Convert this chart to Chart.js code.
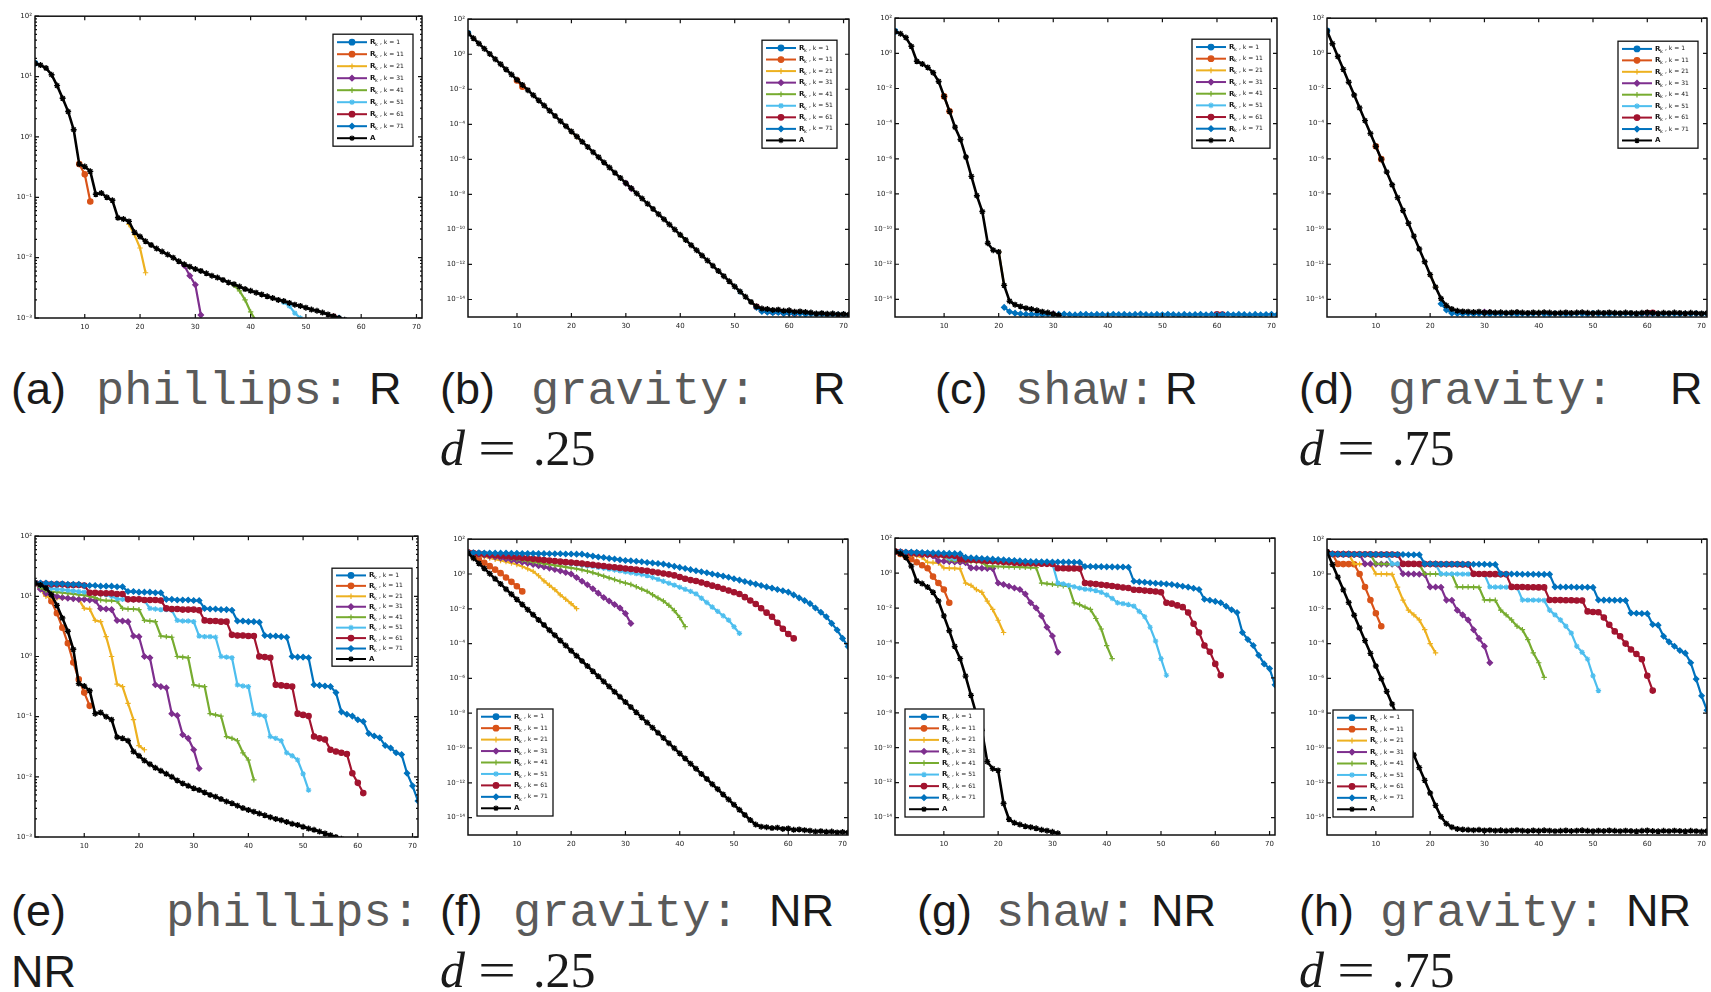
<!DOCTYPE html>
<html>
<head>
<meta charset="utf-8">
<title>phillips / gravity / shaw</title>
<script src="https://cdn.jsdelivr.net/npm/chart.js@4/dist/chart.umd.min.js"></script>
<style>
  html, body { margin: 0; padding: 0; background: #fff; }
  body { width: 1711px; height: 992px; position: relative; overflow: hidden; }
  .panel { position: absolute; }
  .cap { position: absolute; white-space: pre; line-height: 1; }
  .sans { font-family: "Liberation Sans", Arial, sans-serif; font-size: 45px; color: #1a1a1a; }
  .mono { font-family: "Liberation Mono", "Courier New", monospace; font-size: 47px; color: #5a5a5a; }
  .math { font-family: "Liberation Serif", "DejaVu Serif", serif; font-size: 50px; color: #1a1a1a; }
  .it { font-style: italic; }
  .eq { display: inline-block; transform: scaleX(1.35); transform-origin: left center; }
</style>
</head>
<body>
<script>
// ---- axis ticks ----
const iterTicks = [10, 20, 30, 40, 50, 60, 70];
const decadeTicks = [-3, -2, -1, 0, 1, 2];
const evenTicks = [-14, -12, -10, -8, -6, -4, -2, 0, 2];
const legendK = [1, 11, 21, 31, 41, 51, 61, 71];

// all values below are log10 of the plotted quantity, indexed by iteration

// ---- reference curves (A) ----
const phillipsA = [1.22, 1.19, 1.14, 1.03, 0.85, 0.64, 0.42, 0.12, -0.45, -0.49,
  -0.57, -0.95, -0.93, -1.0, -1.05, -1.34, -1.36, -1.4, -1.58, -1.65,
  -1.73, -1.79, -1.85, -1.9, -1.95, -2.0, -2.06, -2.11, -2.15, -2.19,
  -2.22, -2.26, -2.3, -2.33, -2.37, -2.41, -2.44, -2.48, -2.52, -2.55,
  -2.58, -2.61, -2.64, -2.67, -2.7, -2.72, -2.75, -2.78, -2.8, -2.83,
  -2.86, -2.88, -2.91, -2.94, -2.97, -3.0, -3.03];
const gravity25A = [1.2, 0.91, 0.61, 0.32, 0.02, -0.28, -0.57, -0.87, -1.16, -1.46,
  -1.75, -2.05, -2.34, -2.64, -2.93, -3.23, -3.52, -3.82, -4.11, -4.41,
  -4.7, -5.0, -5.29, -5.59, -5.88, -6.18, -6.47, -6.77, -7.06, -7.36,
  -7.65, -7.95, -8.24, -8.54, -8.83, -9.13, -9.42, -9.72, -10.01, -10.31,
  -10.6, -10.9, -11.19, -11.49, -11.78, -12.08, -12.37, -12.67, -12.96, -13.26,
  -13.55, -13.85, -14.14, -14.4, -14.52, -14.55, -14.6, -14.58, -14.65, -14.62,
  -14.7, -14.68, -14.72, -14.75, -14.8, -14.78, -14.82, -14.8, -14.85, -14.83, -14.86];
const shawA = [1.25, 1.12, 0.9, 0.4, -0.45, -0.6, -0.8, -1.1, -1.6, -2.45,
  -3.3, -4.2, -4.9, -5.9, -7.0, -8.1, -9.0, -10.8, -11.2, -11.3,
  -13.2, -14.1, -14.3, -14.4, -14.5, -14.55, -14.62, -14.7, -14.75, -14.82, -14.9];
const gravity75A = [1.28, 0.55, -0.18, -0.91, -1.64, -2.37, -3.1, -3.83, -4.56, -5.29,
  -6.02, -6.75, -7.48, -8.21, -8.94, -9.67, -10.4, -11.13, -11.86, -12.59,
  -13.3, -13.95, -14.35, -14.55, -14.65,
  -14.68, -14.7, -14.72, -14.7, -14.74, -14.72, -14.75, -14.73, -14.76, -14.74,
  -14.72, -14.75, -14.77, -14.74, -14.76, -14.73, -14.75, -14.78, -14.76, -14.74,
  -14.77, -14.75, -14.73, -14.76, -14.78, -14.75, -14.77, -14.74, -14.76, -14.78,
  -14.75, -14.77, -14.79, -14.76, -14.74, -14.77, -14.79, -14.76, -14.78, -14.75,
  -14.77, -14.79, -14.76, -14.78, -14.8, -14.78];

// ---- R runs: only the part that leaves A is kept, starting at *_start ----
const phillipsR_start = [1, 9, 18, 28, 37, 46, 55, 56];
const phillipsR_k1 = [1.22];
const phillipsR_k11 = [-0.45, -0.62, -1.07];
const phillipsR_k21 = [-1.45, -1.62, -1.84, -2.25];
const phillipsR_k31 = [-2.13, -2.3, -2.45, -2.95];
const phillipsR_k41 = [-2.46, -2.55, -2.7, -2.9, -3.05];
const phillipsR_k51 = [-2.74, -2.8, -2.92, -3.0, -3.1, -3.2];
const phillipsR_k61 = [-2.98, -3.03, -3.08, -3.12];
const phillipsR_k71 = [-3.0, -3.04, -3.08];

const gravity25R_start = [1, 10, 20, 30, 40, 50, 54, 54];
const gravity25R_k1 = [1.2];
const gravity25R_k11 = [-1.5, -1.85];
const gravity25R_k21 = [-4.41, -4.72];
const gravity25R_k31 = [-7.36, -7.67];
const gravity25R_k41 = [-10.31, -10.62];
const gravity25R_k51 = [-13.26, -13.57];
const gravity25R_k61 = [-14.42, -14.6, -14.66, -14.7, -14.68, -14.74, -14.72, -14.78];
const gravity25R_k71 = [-14.45, -14.68, -14.72, -14.76, -14.74, -14.8, -14.78, -14.82, -14.8,
  -14.84, -14.82, -14.86, -14.84, -14.88, -14.85, -14.88, -14.86, -14.9];

const shawR_start = [1, 10, 20, 30, 40, 50, 60, 21];
const shawR_k1 = [1.25];
const shawR_k11 = [-2.45, -3.3];
const shawR_k21 = [-11.3, -13.2];
const shawR_k31 = [-14.82, -14.9];
const shawR_k41 = [-14.85, -14.87];
const shawR_k51 = [-14.86, -14.85];
const shawR_k61 = [-14.85, -14.86];
const shawR_k71 = [-14.45, -14.7, -14.78, -14.82, -14.84, -14.85, -14.83, -14.86, -14.84, -14.87,
  -14.85, -14.83, -14.86, -14.88, -14.85, -14.84, -14.87, -14.85, -14.86, -14.88,
  -14.84, -14.86, -14.85, -14.87, -14.85, -14.83, -14.86, -14.88, -14.85, -14.87,
  -14.84, -14.86, -14.88, -14.85, -14.87, -14.86, -14.84, -14.87, -14.85, -14.88,
  -14.86, -14.84, -14.87, -14.85, -14.86, -14.88, -14.85, -14.87, -14.86, -14.84, -14.87];

const gravity75R_start = [1, 10, 20, 30, 40, 50, 60, 22];
const gravity75R_k1 = [1.28];
const gravity75R_k11 = [-5.29, -6.02];
const gravity75R_k21 = [-12.59, -13.3];
const gravity75R_k31 = [-14.72, -14.75];
const gravity75R_k41 = [-14.74, -14.77];
const gravity75R_k51 = [-14.76, -14.75];
const gravity75R_k61 = [-14.77, -14.76];
const gravity75R_k71 = [-14.25, -14.6, -14.78, -14.8, -14.82, -14.8, -14.83, -14.81, -14.82, -14.84,
  -14.81, -14.83, -14.8, -14.82, -14.84, -14.81, -14.83, -14.82, -14.8, -14.83,
  -14.84, -14.81, -14.82, -14.84, -14.83, -14.8, -14.82, -14.84, -14.81, -14.83,
  -14.82, -14.84, -14.81, -14.83, -14.8, -14.82, -14.84, -14.83, -14.81, -14.82,
  -14.84, -14.82, -14.83, -14.81, -14.84, -14.82, -14.83, -14.81, -14.84, -14.82];

// ---- NR runs: full curves from iteration 1 ----
const phillipsNR_k1 = [1.22];
const phillipsNR_k11 = [1.22, 1.15, 1.05, 0.92, 0.72, 0.48, 0.22, -0.1, -0.38, -0.6, -0.82];
const phillipsNR_k21 = [1.22, 1.12, 1.0, 0.98, 0.97, 0.97, 0.97, 0.96, 0.95, 0.8,
  0.79, 0.6, 0.58, 0.33, 0.0, -0.46, -0.5, -0.78, -1.05, -1.48, -1.55];
const phillipsNR_k31 = [1.22, 1.12, 1.05, 1.02, 1.0, 0.98, 0.97, 0.96, 0.95, 0.95,
  0.94, 0.93, 0.8, 0.79, 0.78, 0.6, 0.59, 0.58, 0.34, 0.33,
  0.0, -0.02, -0.47, -0.5, -0.52, -0.95, -0.98, -1.3, -1.36, -1.55, -1.86];
const phillipsNR_k41 = [1.22, 1.15, 1.1, 1.08, 1.07, 1.06, 1.05, 1.04, 1.03, 1.02,
  1.0, 0.98, 0.94, 0.93, 0.93, 0.92, 0.8, 0.79, 0.79, 0.78,
  0.6, 0.59, 0.58, 0.34, 0.33, 0.32, 0.0, -0.01, -0.02, -0.47,
  -0.49, -0.5, -0.95, -0.97, -0.99, -1.33, -1.36, -1.4, -1.6, -1.72, -2.05];
const phillipsNR_k51 = [1.22, 1.18, 1.15, 1.13, 1.12, 1.11, 1.1, 1.09, 1.08, 1.07,
  1.06, 1.05, 1.04, 1.03, 1.0, 0.96, 0.95, 0.95, 0.94, 0.94,
  0.93, 0.8, 0.79, 0.78, 0.78, 0.77, 0.6, 0.59, 0.59, 0.58,
  0.34, 0.33, 0.33, 0.32, 0.0, -0.01, -0.02, -0.47, -0.49, -0.5,
  -0.95, -0.97, -0.99, -1.33, -1.36, -1.4, -1.6, -1.65, -1.72, -1.95, -2.22];
const phillipsNR_k61 = [1.22, 1.21, 1.21, 1.2, 1.2, 1.2, 1.19, 1.19, 1.19, 1.18,
  1.06, 1.06, 1.05, 1.05, 1.05, 1.04, 1.04, 0.95, 0.95, 0.95,
  0.94, 0.94, 0.94, 0.93, 0.8, 0.79, 0.79, 0.78, 0.78, 0.78,
  0.77, 0.6, 0.59, 0.59, 0.58, 0.58, 0.36, 0.35, 0.35, 0.34,
  0.34, 0.0, -0.01, -0.02, -0.47, -0.48, -0.49, -0.5, -0.95, -0.97,
  -0.99, -1.33, -1.36, -1.38, -1.55, -1.58, -1.6, -1.62, -1.94, -2.1, -2.27];
const phillipsNR_k71 = [1.23, 1.22, 1.22, 1.21, 1.21, 1.21, 1.2, 1.2, 1.2, 1.18,
  1.18, 1.18, 1.17, 1.17, 1.17, 1.16, 1.16, 1.08, 1.08, 1.07,
  1.07, 1.07, 1.06, 1.06, 0.95, 0.95, 0.94, 0.94, 0.94, 0.93,
  0.93, 0.8, 0.79, 0.79, 0.78, 0.78, 0.77, 0.59, 0.59, 0.58,
  0.58, 0.57, 0.35, 0.34, 0.34, 0.33, 0.32, 0.0, -0.01, -0.01,
  -0.02, -0.47, -0.48, -0.49, -0.5, -0.6, -0.92, -0.96, -0.99, -1.05,
  -1.08, -1.28, -1.32, -1.35, -1.48, -1.52, -1.6, -1.63, -1.94, -2.15, -2.4];

const gravity25NR_k1 = [1.23];
const gravity25NR_k11 = [1.23, 1.05, 0.85, 0.65, 0.45, 0.25, 0.05, -0.2, -0.45, -0.7, -1.0];
const gravity25NR_k21 = [1.23, 1.15, 1.07, 0.99, 0.92, 0.85, 0.78, 0.71, 0.63, 0.55,
  0.43, 0.3, 0.15, -0.1, -0.4, -0.65, -0.9, -1.2, -1.45, -1.7, -1.99];
const gravity25NR_k31 = [1.23, 1.18, 1.13, 1.08, 1.03, 0.98, 0.92, 0.86, 0.8, 0.74,
  0.68, 0.62, 0.55, 0.48, 0.41, 0.34, 0.26, 0.18, 0.09, 0.0,
  -0.2, -0.42, -0.62, -0.85, -1.1, -1.35, -1.55, -1.75, -1.95, -2.27, -2.84];
const gravity25NR_k41 = [1.23, 1.19, 1.15, 1.11, 1.07, 1.03, 0.99, 0.95, 0.9, 0.85,
  0.8, 0.75, 0.7, 0.65, 0.6, 0.55, 0.5, 0.45, 0.4, 0.35,
  0.3, 0.24, 0.16, 0.08, -0.02, -0.12, -0.22, -0.32, -0.43, -0.52,
  -0.6, -0.73, -0.87, -1.0, -1.19, -1.38, -1.55, -1.8, -2.1, -2.5, -3.03];
const gravity25NR_k51 = [1.23, 1.2, 1.17, 1.13, 1.1, 1.07, 1.04, 1.01, 0.98, 0.95,
  0.92, 0.89, 0.86, 0.83, 0.8, 0.76, 0.72, 0.68, 0.64, 0.6,
  0.56, 0.52, 0.47, 0.43, 0.38, 0.33, 0.28, 0.23, 0.18, 0.12,
  0.07, 0.02, -0.03, -0.09, -0.2, -0.31, -0.42, -0.53, -0.64, -0.76,
  -0.88, -1.0, -1.14, -1.39, -1.64, -1.9, -2.15, -2.4, -2.65, -3.03, -3.41];
const gravity25NR_k61 = [1.23, 1.2, 1.17, 1.14, 1.11, 1.08, 1.05, 1.02, 0.99, 0.96,
  0.93, 0.9, 0.87, 0.84, 0.8, 0.77, 0.74, 0.71, 0.68, 0.66,
  0.63, 0.6, 0.56, 0.53, 0.49, 0.46, 0.42, 0.39, 0.35, 0.32,
  0.29, 0.25, 0.21, 0.18, 0.13, 0.08, 0.03, -0.02, -0.08, -0.17,
  -0.27, -0.35, -0.4, -0.49, -0.58, -0.67, -0.75, -0.85, -0.95, -1.05,
  -1.15, -1.33, -1.52, -1.72, -1.97, -2.22, -2.46, -2.8, -3.15, -3.45, -3.7];
const gravity25NR_k71 = [1.23, 1.22, 1.22, 1.21, 1.21, 1.2, 1.2, 1.2, 1.19, 1.19,
  1.18, 1.18, 1.18, 1.17, 1.17, 1.16, 1.16, 1.16, 1.15, 1.15,
  1.14, 1.14, 1.08, 1.03, 0.98, 0.95, 0.9, 0.86, 0.82, 0.78,
  0.76, 0.73, 0.7, 0.66, 0.63, 0.6, 0.57, 0.5, 0.44, 0.38,
  0.32, 0.25, 0.19, 0.13, 0.07, 0.0, -0.06, -0.12, -0.19, -0.27,
  -0.35, -0.43, -0.51, -0.58, -0.66, -0.74, -0.81, -0.89, -0.96, -1.04,
  -1.2, -1.37, -1.53, -1.7, -1.95, -2.2, -2.46, -2.84, -3.22, -3.7, -4.17];

const shawNR_k1 = [1.23];
const shawNR_k11 = [1.23, 1.1, 0.95, 0.8, 0.62, 0.45, 0.28, -0.2, -0.57, -0.94, -1.7];
const shawNR_k21 = [1.23, 1.18, 1.12, 1.05, 0.98, 0.9, 0.62, 0.6, 0.58, 0.3,
  0.28, 0.27, 0.25, -0.57, -0.7, -0.94, -1.1, -1.6, -2.08, -2.7, -3.4];
const shawNR_k31 = [1.23, 1.2, 1.17, 1.14, 1.1, 1.06, 1.02, 0.98, 0.7, 0.68,
  0.66, 0.64, 0.62, 0.6, 0.3, 0.29, 0.28, 0.27, 0.26, -0.57,
  -0.65, -0.75, -0.85, -0.94, -1.2, -1.7, -2.0, -2.45, -3.1, -3.6, -4.53];
const shawNR_k41 = [1.23, 1.2, 1.17, 1.14, 1.11, 1.08, 1.05, 1.02, 0.99, 0.96,
  0.75, 0.72, 0.7, 0.68, 0.66, 0.64, 0.62, 0.4, 0.39, 0.38,
  0.37, 0.36, 0.35, 0.34, 0.33, 0.32, 0.31, -0.57, -0.6, -0.64,
  -0.68, -0.72, -0.75, -1.7, -1.8, -1.95, -2.08, -2.6, -3.2, -4.15, -4.9];
const shawNR_k51 = [1.23, 1.2, 1.17, 1.14, 1.12, 1.1, 1.08, 1.06, 1.04, 1.02,
  0.85, 0.83, 0.81, 0.79, 0.77, 0.75, 0.73, 0.71, 0.7, 0.69,
  0.68, 0.67, 0.66, 0.65, 0.64, 0.6, 0.58, 0.56, 0.55, 0.54,
  -0.57, -0.62, -0.7, -0.78, -0.86, -0.92, -0.94, -1.0, -1.1, -1.25,
  -1.45, -1.7, -1.75, -1.8, -1.89, -2.2, -2.5, -3.1, -3.9, -4.9, -5.85];
const shawNR_k61 = [1.23, 1.2, 1.17, 1.15, 1.13, 1.11, 1.09, 1.07, 1.05, 1.03,
  1.01, 0.99, 0.8, 0.78, 0.76, 0.74, 0.72, 0.7, 0.68, 0.66,
  0.64, 0.62, 0.6, 0.58, 0.57, 0.56, 0.55, 0.54, 0.53, 0.52,
  0.28, 0.28, 0.27, 0.27, 0.26, -0.57, -0.6, -0.63, -0.67, -0.7,
  -0.74, -0.78, -0.82, -0.85, -0.95, -0.97, -1.0, -1.02, -1.05, -1.1,
  -1.7, -1.75, -1.85, -1.95, -2.26, -2.9, -3.4, -4.15, -4.5, -5.2, -5.85];
const shawNR_k71 = [1.23, 1.22, 1.21, 1.2, 1.19, 1.18, 1.17, 1.16, 1.15, 1.14,
  1.13, 1.12, 1.1, 0.9, 0.88, 0.86, 0.84, 0.82, 0.8, 0.78,
  0.76, 0.74, 0.72, 0.7, 0.68, 0.66, 0.66, 0.65, 0.65, 0.64,
  0.64, 0.63, 0.63, 0.62, 0.62, 0.38, 0.38, 0.37, 0.37, 0.36,
  0.36, 0.35, 0.35, 0.34, -0.47, -0.5, -0.52, -0.55, -0.58, -0.6,
  -0.62, -0.65, -0.7, -0.75, -0.8, -0.87, -0.94, -1.5, -1.55, -1.62,
  -1.7, -1.9, -2.1, -2.26, -3.4, -3.8, -4.15, -4.7, -5.2, -5.47, -6.4];

const gravity75NR_k1 = [1.23];
const gravity75NR_k11 = [1.23, 1.15, 0.58, 0.57, 0.57, 0.56, 0.0, -0.75, -1.5, -2.26, -3.0];
const gravity75NR_k21 = [1.23, 1.15, 1.14, 1.14, 1.13, 0.58, 0.57, 0.57, 0.56, 0.01,
  0.0, -0.01, -0.02, -0.75, -1.5, -2.08, -2.35, -2.64, -3.2, -4.0, -4.53];
const gravity75NR_k31 = [1.23, 1.15, 1.14, 1.14, 1.14, 1.13, 1.13, 0.58, 0.58, 0.57,
  0.57, 0.57, 0.56, 0.56, 0.01, 0.0, 0.0, -0.01, -0.02, -0.74,
  -0.75, -0.76, -1.5, -1.51, -2.08, -2.35, -2.64, -3.2, -3.7, -4.15, -5.1];
const gravity75NR_k41 = [1.23, 1.15, 1.14, 1.14, 1.14, 1.13, 1.13, 1.13, 1.13, 0.58,
  0.58, 0.57, 0.57, 0.57, 0.56, 0.56, 0.56, 0.55, 0.01, 0.0,
  0.0, -0.01, -0.01, -0.02, -0.74, -0.75, -0.75, -0.76, -0.77, -1.49,
  -1.5, -1.51, -2.08, -2.35, -2.64, -3.0, -3.2, -3.77, -4.53, -5.1, -5.94];
const gravity75NR_k51 = [1.23, 1.15, 1.14, 1.14, 1.14, 1.13, 1.13, 1.13, 1.13, 1.12,
  1.12, 1.12, 0.58, 0.58, 0.57, 0.57, 0.57, 0.56, 0.56, 0.56,
  0.55, 0.01, 0.0, 0.0, 0.0, -0.01, -0.01, -0.02, -0.02, -0.02,
  -0.74, -0.75, -0.75, -0.76, -0.76, -0.77, -1.49, -1.5, -1.5, -1.51,
  -1.52, -2.08, -2.35, -2.64, -3.0, -3.4, -4.15, -4.5, -4.9, -5.85, -6.7];
const gravity75NR_k61 = [1.23, 1.15, 1.14, 1.14, 1.14, 1.13, 1.13, 1.13, 1.13, 1.12,
  1.12, 1.12, 1.12, 1.11, 0.58, 0.58, 0.58, 0.57, 0.57, 0.57,
  0.57, 0.56, 0.56, 0.56, 0.56, 0.55, 0.55, 0.01, 0.0, 0.0,
  -0.01, -0.01, -0.02, -0.02, -0.74, -0.75, -0.75, -0.76, -0.76, -0.77,
  -0.77, -1.49, -1.5, -1.5, -1.51, -1.51, -1.52, -1.52, -2.15, -2.18,
  -2.2, -2.5, -2.92, -3.3, -3.58, -4.0, -4.34, -4.6, -4.9, -5.85, -6.7];
const gravity75NR_k71 = [1.23, 1.15, 1.14, 1.14, 1.14, 1.13, 1.13, 1.13, 1.13, 1.13,
  1.12, 1.12, 1.12, 1.12, 1.12, 1.11, 1.11, 1.11, 0.58, 0.58,
  0.58, 0.57, 0.57, 0.57, 0.57, 0.57, 0.56, 0.56, 0.56, 0.56,
  0.55, 0.55, 0.01, 0.0, 0.0, 0.0, -0.01, -0.01, -0.01, -0.02,
  -0.02, -0.02, -0.74, -0.75, -0.75, -0.75, -0.76, -0.76, -0.76, -0.77,
  -1.49, -1.5, -1.5, -1.51, -1.51, -1.52, -2.24, -2.26, -2.27, -2.28,
  -2.9, -2.94, -3.58, -3.9, -4.15, -4.4, -4.55, -5.1, -6.04, -7.0, -7.83];

// ---- styling ----
const seriesColors = ['#0072BD', '#D95319', '#EDB120', '#7E2F8E', '#77AC30', '#4DBEEE', '#A2142F', '#0072BD', '#000000'];
const seriesMarkers = ['circle', 'circle', 'cross', 'rectRot', 'cross', 'star', 'circle', 'rectRot', 'star'];
const AXIS_W = 30, AXIS_H = 16, PAD_T = 6, PAD_R = 6;

const SUP = { '-': '\u207B', '0': '\u2070', '1': '\u00B9', '2': '\u00B2', '3': '\u00B3', '4': '\u2074',
  '5': '\u2075', '6': '\u2076', '7': '\u2077', '8': '\u2078', '9': '\u2079' };
function powLabel(v) {
  const e = String(Math.round(Math.log10(v)));
  return '10' + e.split('').map(c => SUP[c]).join('');
}

// points from log10 values, first value at iteration `start`
function toPoints(vals, start) {
  return vals.map((v, i) => ({ x: start + i, y: Math.pow(10, v) }));
}

// frame with inward ticks on all four sides
const boxAxes = {
  id: 'boxAxes',
  afterDraw(chart, args, opts) {
    const ctx = chart.ctx, a = chart.chartArea;
    const xs = chart.scales.x, ys = chart.scales.y;
    ctx.save();
    ctx.strokeStyle = '#111';
    ctx.lineWidth = 1.2;
    ctx.beginPath();
    xs.ticks.forEach(t => {
      const p = xs.getPixelForValue(t.value);
      ctx.moveTo(p, a.bottom); ctx.lineTo(p, a.bottom - 4);
      ctx.moveTo(p, a.top); ctx.lineTo(p, a.top + 4);
    });
    ys.ticks.forEach(t => {
      const p = ys.getPixelForValue(t.value);
      ctx.moveTo(a.left, p); ctx.lineTo(a.left + 4, p);
      ctx.moveTo(a.right, p); ctx.lineTo(a.right - 4, p);
    });
    if (opts.minor) {
      const lo = Math.round(Math.log10(ys.min)), hi = Math.round(Math.log10(ys.max));
      for (let e = lo; e < hi; e++) {
        for (let m = 2; m <= 9; m++) {
          const p = ys.getPixelForValue(m * Math.pow(10, e));
          ctx.moveTo(a.left, p); ctx.lineTo(a.left + 2, p);
          ctx.moveTo(a.right, p); ctx.lineTo(a.right - 2, p);
        }
      }
    }
    ctx.stroke();
    ctx.lineWidth = 1.5;
    ctx.strokeRect(a.left, a.top, a.right - a.left, a.bottom - a.top);
    ctx.restore();
  }
};

// boxed legend drawn inside the plot area
const boxLegend = {
  id: 'boxLegend',
  afterDatasetsDraw(chart, args, opts) {
    const ctx = chart.ctx, a = chart.chartArea;
    const sets = chart.data.datasets;
    const w = opts.w, h = opts.h;
    const x0 = opts.corner === 'tr' ? a.right - opts.dx - w : a.left + opts.dx;
    const y0 = opts.corner === 'tr' ? a.top + opts.dy : a.bottom - opts.dy - h;
    const rowH = (h - 4) / sets.length;
    ctx.save();
    ctx.fillStyle = '#fff';
    ctx.fillRect(x0, y0, w, h);
    ctx.strokeStyle = '#111';
    ctx.lineWidth = 1.3;
    ctx.strokeRect(x0, y0, w, h);
    sets.forEach((ds, i) => {
      const cy = y0 + 2 + rowH * (i + 0.5);
      ctx.strokeStyle = ds.borderColor;
      ctx.fillStyle = ds.borderColor;
      ctx.lineWidth = 2;
      ctx.beginPath();
      ctx.moveTo(x0 + 4, cy);
      ctx.lineTo(x0 + 34, cy);
      ctx.stroke();
      ctx.lineWidth = 1.2;
      Chart.helpers.drawPoint(ctx, { pointStyle: ds.pointStyle, radius: 2.8, rotation: 0, borderWidth: 1.2 }, x0 + 19, cy);
      ctx.fillStyle = '#111';
      ctx.textBaseline = 'middle';
      ctx.font = 'bold 7px "DejaVu Sans"';
      ctx.fillText(ds.label.name, x0 + 37, cy);
      if (ds.label.k !== null) {
        ctx.font = '5px "DejaVu Sans"';
        ctx.fillText('k', x0 + 42, cy + 2.5);
        ctx.font = '6px "DejaVu Sans"';
        ctx.fillText(', k = ' + ds.label.k, x0 + 47, cy);
      }
    });
    ctx.restore();
  }
};

function buildDatasets(colored, starts, ref) {
  const sets = colored.map((vals, i) => ({
    label: { name: 'R', k: legendK[i] },
    data: toPoints(vals, starts[i]),
    borderColor: seriesColors[i],
    backgroundColor: seriesColors[i],
    pointBackgroundColor: seriesColors[i],
    pointBorderColor: seriesColors[i],
    pointStyle: seriesMarkers[i],
    pointRadius: 2.7,
    pointBorderWidth: 1.2,
    borderWidth: 2.2,
    order: colored.length + 1 - i
  }));
  sets.push({
    label: { name: 'A', k: null },
    data: toPoints(ref, 1),
    borderColor: '#000',
    backgroundColor: '#000',
    pointBackgroundColor: '#000',
    pointBorderColor: '#000',
    pointStyle: 'star',
    pointRadius: 3,
    pointBorderWidth: 1.4,
    borderWidth: 2.6,
    order: 0
  });
  return sets;
}

const ones = [1, 1, 1, 1, 1, 1, 1, 1];
const panels = [
  { box: [35, 15, 422, 318], exp: [-3, 2], ticks: decadeTicks, minor: true, ref: phillipsA, starts: phillipsR_start,
    colored: [phillipsR_k1, phillipsR_k11, phillipsR_k21, phillipsR_k31, phillipsR_k41, phillipsR_k51, phillipsR_k61, phillipsR_k71],
    legend: { corner: 'tr', dx: 9, dy: 18, w: 80, h: 112 } },
  { box: [468, 18, 849, 317], exp: [-15, 2], ticks: evenTicks, minor: false, ref: gravity25A, starts: gravity25R_start,
    colored: [gravity25R_k1, gravity25R_k11, gravity25R_k21, gravity25R_k31, gravity25R_k41, gravity25R_k51, gravity25R_k61, gravity25R_k71],
    legend: { corner: 'tr', dx: 12, dy: 21, w: 75, h: 108 } },
  { box: [895, 17, 1277, 317], exp: [-15, 2], ticks: evenTicks, minor: false, ref: shawA, starts: shawR_start,
    colored: [shawR_k1, shawR_k11, shawR_k21, shawR_k31, shawR_k41, shawR_k51, shawR_k61, shawR_k71],
    legend: { corner: 'tr', dx: 7, dy: 21, w: 78, h: 109 } },
  { box: [1327, 17, 1707, 317], exp: [-15, 2], ticks: evenTicks, minor: false, ref: gravity75A, starts: gravity75R_start,
    colored: [gravity75R_k1, gravity75R_k11, gravity75R_k21, gravity75R_k31, gravity75R_k41, gravity75R_k51, gravity75R_k61, gravity75R_k71],
    legend: { corner: 'tr', dx: 9, dy: 23, w: 80, h: 107 } },
  { box: [35, 535, 418, 837], exp: [-3, 2], ticks: decadeTicks, minor: true, ref: phillipsA, starts: ones,
    colored: [phillipsNR_k1, phillipsNR_k11, phillipsNR_k21, phillipsNR_k31, phillipsNR_k41, phillipsNR_k51, phillipsNR_k61, phillipsNR_k71],
    legend: { corner: 'tr', dx: 6, dy: 32, w: 80, h: 98 } },
  { box: [468, 538, 848, 835], exp: [-15, 2], ticks: evenTicks, minor: false, ref: gravity25A, starts: ones,
    colored: [gravity25NR_k1, gravity25NR_k11, gravity25NR_k21, gravity25NR_k31, gravity25NR_k41, gravity25NR_k51, gravity25NR_k61, gravity25NR_k71],
    legend: { corner: 'bl', dx: 9, dy: 19, w: 76, h: 107 } },
  { box: [895, 537, 1275, 835], exp: [-15, 2], ticks: evenTicks, minor: false, ref: shawA, starts: ones,
    colored: [shawNR_k1, shawNR_k11, shawNR_k21, shawNR_k31, shawNR_k41, shawNR_k51, shawNR_k61, shawNR_k71],
    legend: { corner: 'bl', dx: 10, dy: 18, w: 79, h: 108 } },
  { box: [1327, 538, 1707, 835], exp: [-15, 2], ticks: evenTicks, minor: false, ref: gravity75A, starts: ones,
    colored: [gravity75NR_k1, gravity75NR_k11, gravity75NR_k21, gravity75NR_k31, gravity75NR_k41, gravity75NR_k51, gravity75NR_k61, gravity75NR_k71],
    legend: { corner: 'bl', dx: 6, dy: 18, w: 80, h: 107 } }
];

const tickFont = { family: 'DejaVu Sans', size: 7 };

function makePanel(p) {
  const [L, T, R, B] = p.box;
  const wrap = document.createElement('div');
  wrap.className = 'panel';
  wrap.style.left = (L - AXIS_W) + 'px';
  wrap.style.top = (T - PAD_T) + 'px';
  const canvas = document.createElement('canvas');
  canvas.width = (R - L) + AXIS_W + PAD_R;
  canvas.height = (B - T) + PAD_T + AXIS_H;
  wrap.appendChild(canvas);
  document.body.appendChild(wrap);

  new Chart(canvas.getContext('2d'), {
    type: 'line',
    data: { datasets: buildDatasets(p.colored, p.starts, p.ref) },
    options: {
      responsive: false,
      animation: false,
      events: [],
      layout: { padding: { top: PAD_T, right: PAD_R, left: 0, bottom: 0 } },
      plugins: {
        legend: { display: false },
        tooltip: { enabled: false },
        boxAxes: { minor: p.minor },
        boxLegend: p.legend
      },
      scales: {
        x: {
          type: 'linear', min: 1, max: 71,
          grid: { display: false, drawTicks: false },
          border: { display: false },
          afterBuildTicks: s => { s.ticks = iterTicks.map(v => ({ value: v })); },
          afterFit: s => { s.height = AXIS_H; },
          ticks: { font: tickFont, color: '#222', padding: 5, maxRotation: 0, autoSkip: false }
        },
        y: {
          type: 'logarithmic',
          min: Math.pow(10, p.exp[0]), max: Math.pow(10, p.exp[1]),
          grid: { display: false, drawTicks: false },
          border: { display: false },
          afterBuildTicks: s => { s.ticks = p.ticks.map(e => ({ value: Math.pow(10, e) })); },
          afterFit: s => { s.width = AXIS_W; },
          ticks: { font: tickFont, color: '#222', padding: 3, autoSkip: false, callback: v => powLabel(v) }
        }
      }
    },
    plugins: [boxAxes, boxLegend]
  });
}

panels.forEach(makePanel);

// ---- captions ----
const BASE_RATIO = { sans: 0.8465, mono: 0.7665, math: 0.8375 };
const SIZE = { sans: 45, mono: 47, math: 50 };
const captions = [
  ['(a)', 'sans', 11, 404], ['phillips:', 'mono', 96, 404], ['R', 'sans', 369, 404],
  ['(b)', 'sans', 440, 404], ['gravity:', 'mono', 531, 404], ['R', 'sans', 813, 404],
  ['<span class="it">d</span>', 'math', 440, 465], ['<span class="eq">=</span>', 'math', 478, 465], ['.25', 'math', 533, 465],
  ['(c)', 'sans', 935, 404], ['shaw:', 'mono', 1015, 404], ['R', 'sans', 1165, 404],
  ['(d)', 'sans', 1299, 404], ['gravity:', 'mono', 1388, 404], ['R', 'sans', 1670, 404],
  ['<span class="it">d</span>', 'math', 1299, 465], ['<span class="eq">=</span>', 'math', 1337, 465], ['.75', 'math', 1392, 465],
  ['(e)', 'sans', 11, 926], ['phillips:', 'mono', 166, 926], ['NR', 'sans', 11, 987],
  ['(f)', 'sans', 440, 926], ['gravity:', 'mono', 513, 926], ['NR', 'sans', 769, 926],
  ['<span class="it">d</span>', 'math', 440, 987], ['<span class="eq">=</span>', 'math', 478, 987], ['.25', 'math', 533, 987],
  ['(g)', 'sans', 917, 926], ['shaw:', 'mono', 996, 926], ['NR', 'sans', 1151, 926],
  ['(h)', 'sans', 1299, 926], ['gravity:', 'mono', 1380, 926], ['NR', 'sans', 1626, 926],
  ['<span class="it">d</span>', 'math', 1299, 987], ['<span class="eq">=</span>', 'math', 1337, 987], ['.75', 'math', 1392, 987]
];
captions.forEach(([html, cls, left, baseline]) => {
  const el = document.createElement('div');
  el.className = 'cap ' + cls;
  el.innerHTML = html;
  el.style.left = left + 'px';
  el.style.top = (baseline - BASE_RATIO[cls] * SIZE[cls]) + 'px';
  document.body.appendChild(el);
});
</script>
</body>
</html>
